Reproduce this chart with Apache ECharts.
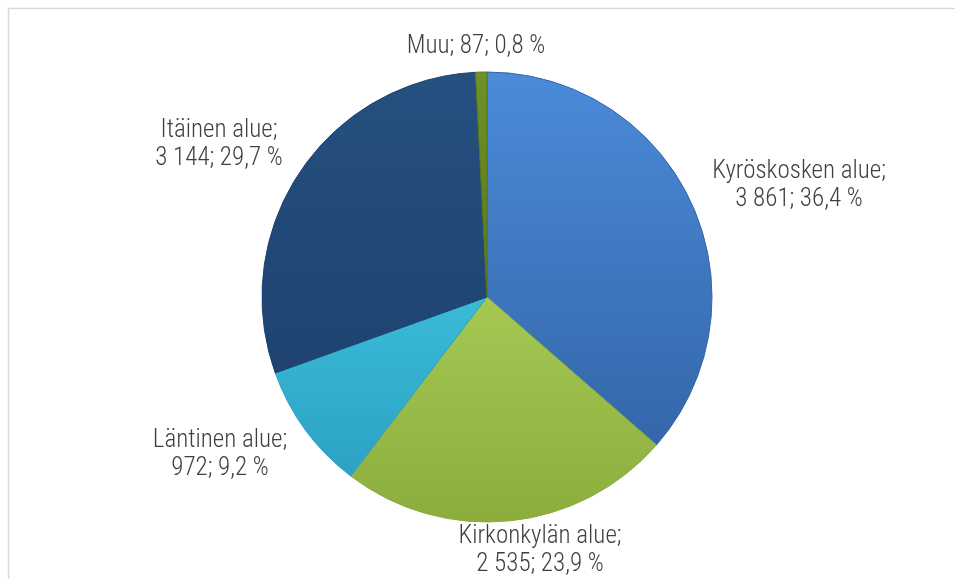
<!DOCTYPE html>
<html>
<head>
<meta charset="utf-8">
<script src="https://cdn.jsdelivr.net/npm/echarts@6/dist/echarts.min.js"></script>
<style>
  html, body { margin: 0; padding: 0; background: #fff; }
  #main { width: 955px; height: 579px; }
</style>
</head>
<body>
<div id="main"></div>
<script>
    // alueet ja asukasmäärät
    var categories = ['Kyröskosken alue', 'Kirkonkylän alue', 'Läntinen alue', 'Itäinen alue', 'Muu'];
    var values = [3861, 2535, 972, 3144, 87];
    var percents = ['36,4', '23,9', '9,2', '29,7', '0,8'];
    var valueLabels = ['3 861', '2 535', '972', '3 144', '87'];

    // värit (ylä- ja alareuna)
    var topColors = ['#4b8bd8', '#a6c853', '#3bbbd9', '#25507f', '#6f9126'];
    var bottomColors = ['#3466a9', '#8aad3d', '#2ca2c3', '#1e4370', '#5a771b'];

    // tekstien sijainti (keskipiste)
    var labelPos = [[799, 186], [540, 551], [220, 455], [219, 145], [476, 47]];

    var data = categories.map(function (name, i) {
        return {
            name: name,
            value: values[i],
            itemStyle: {
                color: new echarts.graphic.LinearGradient(0, 0, 0, 1, [
                    { offset: 0, color: topColors[i] },
                    { offset: 1, color: bottomColors[i] }
                ]),
                borderColor: bottomColors[i],
                borderWidth: 1
            }
        };
    });

    var myChart = echarts.init(document.getElementById('main'));
    var option = {
        backgroundColor: '#ffffff',
        animation: false,
        graphic: [{
            type: 'rect',
            shape: { x: 8.5, y: 8.5, width: 1200, height: 1200 },
            style: { fill: 'none', stroke: '#d9d9d9', lineWidth: 1.5 },
            silent: true
        }],
        series: [{
            type: 'pie',
            center: [487, 297],
            radius: 225,
            startAngle: 90,
            clockwise: true,
            avoidLabelOverlap: false,
            data: data,
            label: {
                show: true,
                position: 'outside',
                fontFamily: '"Roboto Condensed", "Liberation Sans Narrow", sans-serif',
                fontSize: 25,
                fontWeight: 300,
                lineHeight: 28,
                color: '#3f3f3f',
                align: 'center',
                formatter: function (p) {
                    var i = p.dataIndex;
                    if (i === 4) {
                        return p.name + '; ' + valueLabels[i] + '; ' + percents[i] + ' %';
                    }
                    return p.name + ';\n' + valueLabels[i] + '; ' + percents[i] + ' %';
                }
            },
            labelLine: { show: false },
            labelLayout: function (params) {
                var pos = labelPos[params.dataIndex];
                return {
                    x: pos[0],
                    y: pos[1],
                    align: 'center',
                    verticalAlign: 'middle'
                };
            },
            emphasis: { disabled: true }
        }]
    };
    myChart.setOption(option);
</script>
</body>
</html>
